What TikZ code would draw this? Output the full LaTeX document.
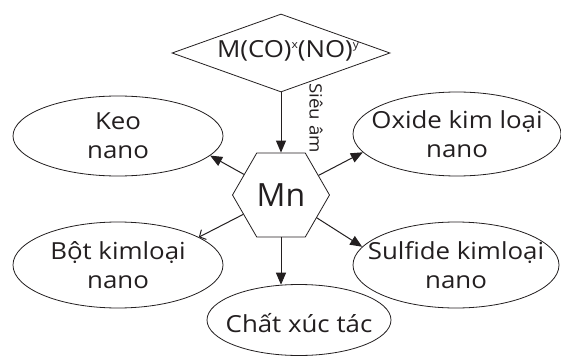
\documentclass[tikz,border=0pt]{standalone}
\usepackage{fontspec}
\setmainfont[FakeStretch=1.1]{Open Sans}
\newfontfamily\plainfont{Open Sans}
\usetikzlibrary{shapes.geometric,arrows.meta}
\definecolor{ink}{RGB}{35,31,32}
\newcommand{\mysup}[1]{\raisebox{0.75ex}{\fontsize{11}{11}\selectfont #1}}
\begin{document}
\begin{tikzpicture}[x=1pt,y=-1pt,
  shp/.style={draw=ink, line width=0.8pt, inner sep=0pt},
  oval/.style={shp, ellipse},
  txt/.style={font=\fontsize{23.5}{29}\selectfont, align=center, text=ink, inner sep=0pt},
  arr/.style={draw=ink, line width=1pt, -{Triangle[length=12pt,width=10pt]}},
  arro/.style={draw=ink, line width=1pt, -{Straight Barb[length=5pt,width=11pt]}}]
\useasboundingbox (0,0) rectangle (561,358);
\fill[white] (0,0) rectangle (561,358);
\node[shp, diamond, minimum width=218pt, minimum height=78pt,
  label={[txt, font=\fontsize{23.5}{23.5}\selectfont, xshift=7pt, yshift=2pt]center:M(CO)\mysup{x}(NO)\mysup{y}}] (dia) at (281,53) {};
\node[shp, regular polygon, regular polygon sides=6, minimum size=97pt,
  label={[txt, font=\plainfont\fontsize{32}{32}\selectfont]center:Mn}] (hex) at (281,195) {};
\node[oval, minimum width=210pt, minimum height=80pt, label={[txt]center:Keo\\nano}] (keo) at (118,136) {};
\node[oval, minimum width=210pt, minimum height=86pt, label={[txt]center:Bột kimloại\\nano}] (bot) at (118,265) {};
\node[oval, minimum width=208pt, minimum height=84pt, label={[txt]center:Oxide kim loại\\nano}] (oxi) at (457,134) {};
\node[oval, minimum width=206pt, minimum height=86pt, label={[txt]center:Sulfide kimloại\\nano}] (sul) at (456,265) {};
\node[oval, minimum width=184pt, minimum height=71pt, label={[txt, yshift=-3pt]center:Chất xúc tác}] (cxt) at (299,320) {};
\node[font=\fontsize{17}{17}\selectfont, text=ink, rotate=-90, inner sep=0pt] (sa) at (316,118) {Siêu âm};
\draw[arr] (dia.south) -- (hex.north);
\draw[arr] (hex) -- (keo.-12);
\draw[arr] (hex) -- (oxi.191);
\draw[arro] (hex) -- (bot.19);
\draw[arr] (hex) -- (sul.169);
\draw[arr] (hex.south) -- (hex.south |- cxt.116);
\end{tikzpicture}
\end{document}
